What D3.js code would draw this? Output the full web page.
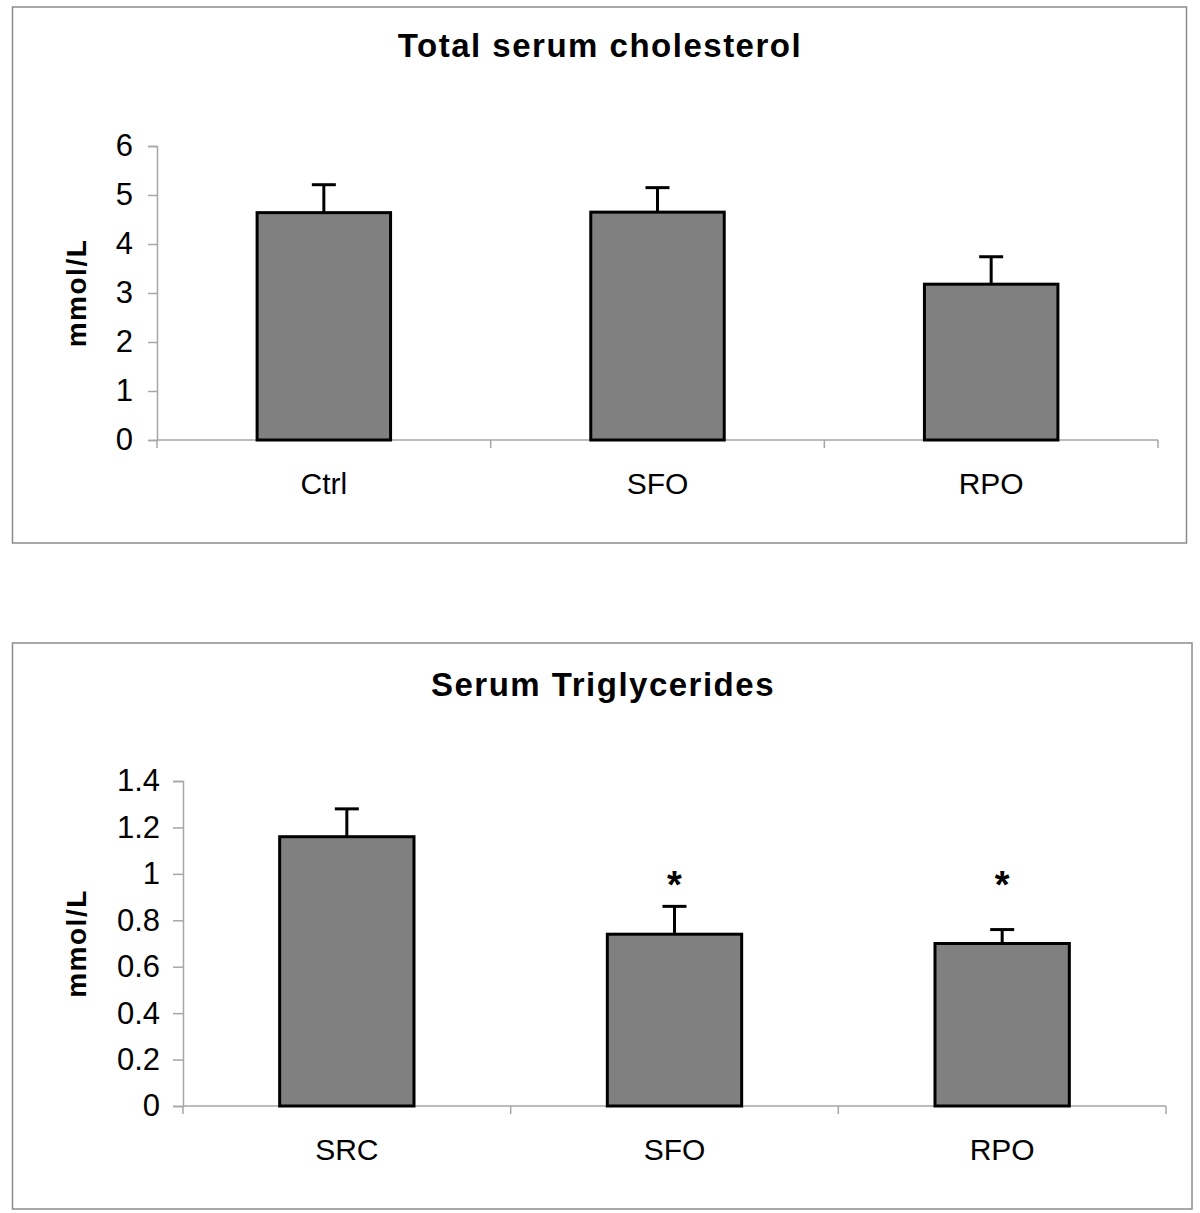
<!DOCTYPE html>
<html>
<head>
<meta charset="utf-8">
<script src="https://cdn.jsdelivr.net/npm/d3@7"></script>
<style>
  body { margin: 0; background: #fff; }
  svg text { font-family: Arial, "Liberation Sans", sans-serif; fill: #000; }
</style>
</head>
<body>
<div id="chart"></div>
<script>
// data
var cholCategories = ["Ctrl", "SFO", "RPO"];
var cholMeans = [4.64, 4.65, 3.18];
var cholErrors = [0.57, 0.50, 0.56];
var cholTicks = [0, 1, 2, 3, 4, 5, 6];

var trigCategories = ["SRC", "SFO", "RPO"];
var trigMeans = [1.16, 0.74, 0.70];
var trigErrors = [0.12, 0.12, 0.06];
var trigSignif = [false, true, true];
var trigTicks = [0, 0.2, 0.4, 0.6, 0.8, 1, 1.2, 1.4];

var svg = d3.select("#chart").append("svg")
	.attr("width", 1200)
	.attr("height", 1213);

function drawPanel(cfg) {
	var g = svg.append("g");

	// frame
	g.append("rect")
		.attr("x", cfg.box[0]).attr("y", cfg.box[1])
		.attr("width", cfg.box[2]).attr("height", cfg.box[3])
		.attr("fill", "none")
		.attr("stroke", "#8c8c8c")
		.attr("stroke-width", 1.5);

	// title
	g.append("text")
		.attr("x", cfg.titleX)
		.attr("y", cfg.titleY)
		.attr("text-anchor", "middle")
		.attr("font-size", "33px")
		.attr("font-weight", "bold")
		.attr("letter-spacing", "1.5px")
		.text(cfg.title);

	var x = d3.scaleBand()
		.domain(cfg.categories)
		.range([cfg.left, cfg.right]);

	var y = d3.scaleLinear()
		.domain([0, cfg.max])
		.range([cfg.bottom, cfg.top]);

	// y axis
	var yAxis = g.append("g")
		.attr("transform", "translate(" + cfg.left + ",0)")
		.call(d3.axisLeft(y)
			.tickValues(cfg.ticks)
			.tickSize(cfg.tickLen)
			.tickPadding(cfg.tickPad)
			.tickFormat(d3.format("~g")));
	yAxis.select(".domain").attr("stroke", "#a6a6a6").attr("stroke-width", 1.5);
	yAxis.selectAll(".tick line").attr("stroke", "#a6a6a6").attr("stroke-width", 1.5);
	yAxis.selectAll(".tick text")
		.attr("font-size", cfg.tickFont)
		.attr("font-family", "Arial, 'Liberation Sans', sans-serif")
		.attr("fill", "#000");

	// x axis line + boundary ticks
	g.append("line")
		.attr("x1", cfg.left).attr("x2", cfg.right)
		.attr("y1", cfg.bottom).attr("y2", cfg.bottom)
		.attr("stroke", "#a6a6a6").attr("stroke-width", 1.5);

	var bounds = d3.range(cfg.categories.length + 1).map(function(i) {
		return cfg.left + i * x.step();
	});
	g.selectAll(".xtick")
		.data(bounds)
		.enter().append("line")
		.attr("x1", function(d) { return d; })
		.attr("x2", function(d) { return d; })
		.attr("y1", cfg.bottom)
		.attr("y2", cfg.bottom + 8)
		.attr("stroke", "#a6a6a6").attr("stroke-width", 1.5);

	// category labels
	g.selectAll(".xlabel")
		.data(cfg.categories)
		.enter().append("text")
		.attr("x", function(d) { return x(d) + x.bandwidth() / 2; })
		.attr("y", cfg.catY)
		.attr("text-anchor", "middle")
		.attr("font-size", cfg.catFont)
		.text(function(d) { return d; });

	// y label
	g.append("text")
		.attr("transform", "translate(86," + ((cfg.top + cfg.bottom) / 2) + ") rotate(-90)")
		.attr("text-anchor", "middle")
		.attr("font-size", "28px")
		.attr("font-weight", "bold")
		.attr("letter-spacing", "1.5px")
		.text("mmol/L");

	var barW = x.bandwidth() * cfg.barRatio;
	var cx = function(i) { return x(cfg.categories[i]) + x.bandwidth() / 2; };

	// error bars
	var err = g.selectAll(".err")
		.data(cfg.means)
		.enter().append("g");
	err.append("line")
		.attr("x1", function(d, i) { return cx(i); })
		.attr("x2", function(d, i) { return cx(i); })
		.attr("y1", function(d) { return y(d); })
		.attr("y2", function(d, i) { return y(d + cfg.errors[i]); })
		.attr("stroke", "#000").attr("stroke-width", 3);
	err.append("line")
		.attr("x1", function(d, i) { return cx(i) - 12; })
		.attr("x2", function(d, i) { return cx(i) + 12; })
		.attr("y1", function(d, i) { return y(d + cfg.errors[i]); })
		.attr("y2", function(d, i) { return y(d + cfg.errors[i]); })
		.attr("stroke", "#000").attr("stroke-width", 3);

	// bars
	g.selectAll(".bar")
		.data(cfg.means)
		.enter().append("rect")
		.attr("x", function(d, i) { return cx(i) - barW / 2; })
		.attr("y", function(d) { return y(d); })
		.attr("width", barW)
		.attr("height", function(d) { return cfg.bottom - y(d); })
		.attr("fill", "#808080")
		.attr("stroke", "#000")
		.attr("stroke-width", 3);

	// significance stars
	if (cfg.signif) {
		g.selectAll(".star")
			.data(cfg.signif)
			.enter().append("text")
			.attr("x", function(d, i) { return cx(i); })
			.attr("y", y(cfg.starAt) + 19)
			.attr("text-anchor", "middle")
			.attr("font-size", "38px")
			.attr("font-weight", "bold")
			.text(function(d) { return d ? "*" : ""; });
	}
	return g;
}

drawPanel({
	box: [12.5, 7, 1174, 536],
	title: "Total serum cholesterol",
	titleX: 600, titleY: 57,
	categories: cholCategories,
	means: cholMeans,
	errors: cholErrors,
	ticks: cholTicks,
	max: 6,
	left: 157, right: 1158, top: 146, bottom: 440,
	tickLen: 9, tickPad: 15, tickFont: "31px",
	catY: 494, catFont: "30px",
	barRatio: 0.4
});

drawPanel({
	box: [12.5, 643, 1179.5, 566],
	title: "Serum Triglycerides",
	titleX: 603, titleY: 696,
	categories: trigCategories,
	means: trigMeans,
	errors: trigErrors,
	signif: trigSignif,
	starAt: 0.98,
	ticks: trigTicks,
	max: 1.4,
	left: 183, right: 1166, top: 781, bottom: 1106,
	tickLen: 10, tickPad: 13, tickFont: "31px",
	catY: 1160, catFont: "30px",
	barRatio: 0.41
});
</script>
</body>
</html>
